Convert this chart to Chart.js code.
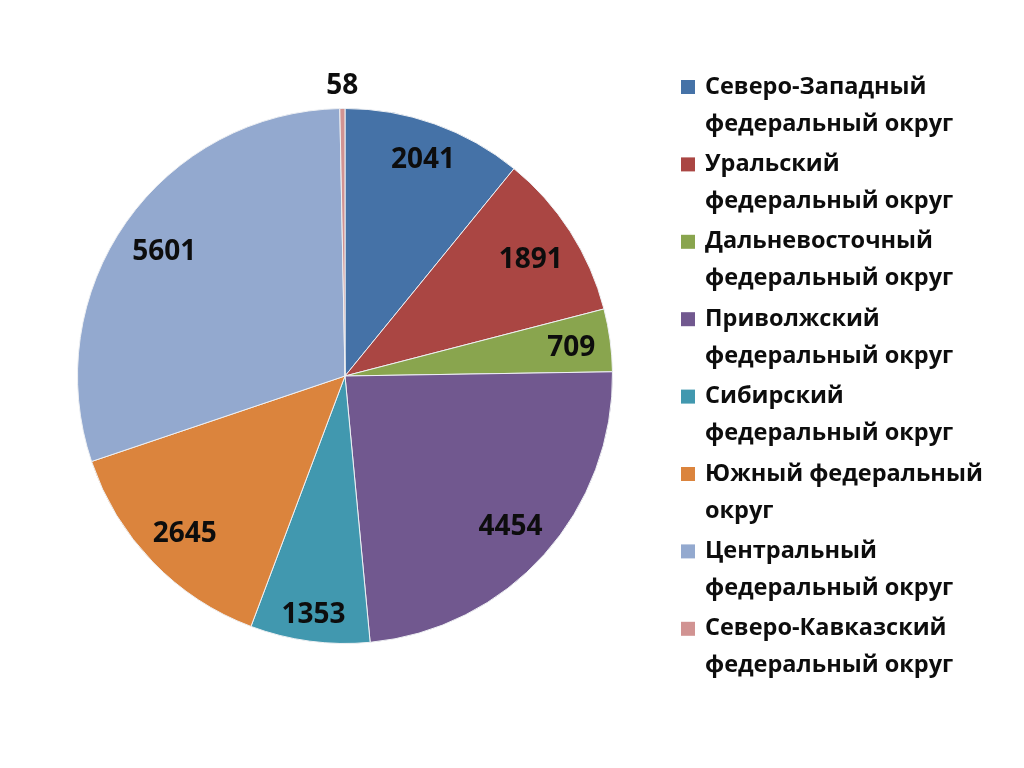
<!DOCTYPE html>
<html>
<head>
<meta charset="utf-8">
<script src="https://cdn.jsdelivr.net/npm/chart.js@4.4.0/dist/chart.umd.min.js"></script>
<style>
  html, body { margin: 0; padding: 0; background: #fff; }
  #wrap { width: 1024px; height: 768px; position: relative; }
</style>
</head>
<body>
<div id="wrap"><canvas id="okrugChart"></canvas></div>
<script>
// округа (legend lines split the way they are shown)
const okrugLabels = [
  ['Северо-Западный', 'федеральный округ'],
  ['Уральский', 'федеральный округ'],
  ['Дальневосточный', 'федеральный округ'],
  ['Приволжский', 'федеральный округ'],
  ['Сибирский', 'федеральный округ'],
  ['Южный федеральный', 'округ'],
  ['Центральный', 'федеральный округ'],
  ['Северо-Кавказский', 'федеральный округ']
];

const okrugValues = [2041, 1891, 709, 4454, 1353, 2645, 5601, 58];

const okrugColors = [
  '#4572A7', '#AA4643', '#89A54E', '#71588F',
  '#4198AF', '#DB843D', '#93A9CF', '#D19392'
];

const labelFont = 'bold 28px "Open Sans", Lato, sans-serif';
const legendFont = 'bold 23.5px "Open Sans", Lato, sans-serif';

// value labels, Excel "best fit" like: inside the end of the slice, outside when too narrow
const sliceLabels = {
  id: 'sliceLabels',
  afterDatasetsDraw(chart) {
    const ctx = chart.ctx;
    const meta = chart.getDatasetMeta(0);
    ctx.save();
    ctx.font = labelFont;
    ctx.fillStyle = '#0d0d0d';
    ctx.textAlign = 'center';
    ctx.textBaseline = 'middle';
    meta.data.forEach((arc, i) => {
      const p = arc.getProps(['x', 'y', 'startAngle', 'endAngle', 'outerRadius']);
      const mid = (p.startAngle + p.endAngle) / 2;
      const sx = Math.cos(mid), sy = Math.sin(mid);
      const txt = String(okrugValues[i]);
      const hw = ctx.measureText(txt).width / 2;
      const hh = 11;
      const ext = Math.abs(hw * sx) + Math.abs(hh * sy);
      const margin = 14;
      const tooSmall = (p.endAngle - p.startAngle) < 0.15;
      const d = tooSmall ? p.outerRadius + ext + margin : p.outerRadius - ext - margin;
      ctx.fillText(txt, p.x + sx * d, p.y + sy * d + 3);
    });
    ctx.restore();
  }
};

// legend on the right with two-line entries
const sideLegend = {
  id: 'sideLegend',
  afterDraw(chart) {
    const ctx = chart.ctx;
    const x0 = 681, y0 = 87, itemStep = 77.4, lineStep = 37;
    ctx.save();
    ctx.font = legendFont;
    ctx.textBaseline = 'middle';
    ctx.textAlign = 'left';
    okrugLabels.forEach((lines, i) => {
      const y = y0 + i * itemStep;
      ctx.fillStyle = okrugColors[i];
      ctx.fillRect(x0, y - 7, 14, 14);
      ctx.fillStyle = '#0d0d0d';
      lines.forEach((ln, j) => ctx.fillText(ln, x0 + 24, y + j * lineStep));
    });
    ctx.restore();
  }
};

new Chart(document.getElementById('okrugChart'), {
  type: 'pie',
  data: {
    labels: okrugLabels.map(l => l.join(' ')),
    datasets: [{
      data: okrugValues,
      backgroundColor: okrugColors,
      borderColor: '#eef0f3',
      borderWidth: 1
    }]
  },
  options: {
    responsive: true,
    maintainAspectRatio: false,
    animation: false,
    layout: { padding: { left: 77, top: 108, right: 411, bottom: 124 } },
    plugins: {
      legend: { display: false },
      tooltip: { enabled: false }
    }
  },
  plugins: [sliceLabels, sideLegend]
});
</script>
</body>
</html>
